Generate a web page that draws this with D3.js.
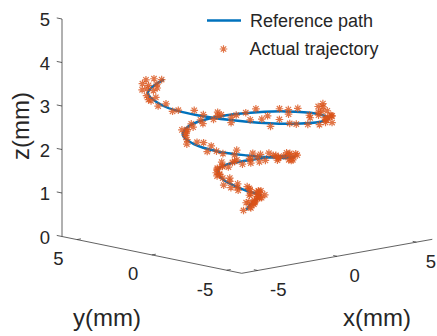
<!DOCTYPE html>
<html><head><meta charset="utf-8">
<script src="https://cdn.jsdelivr.net/npm/d3@7"></script>
<style>body{margin:0;background:#fff}svg{display:block}text{font-family:"Liberation Sans",Arial,sans-serif;fill:#262626}</style>
</head><body><svg id="c" width="437" height="336"></svg>
<script>
// ---- data ----
const xTicks = [-5, 0, 5];
const yTicks = [-5, 0, 5];
const zTicks = [0, 1, 2, 3, 4, 5];
const seriesNames = ["Reference path", "Actual trajectory"];
const axisNames = ["x(mm)", "y(mm)", "z(mm)"];

const refX = [0.10,0.27,0.41,0.40,0.20,-0.19,-0.65,-1.04,-1.18,-0.98,-0.43,0.37,1.20,1.80,1.96,1.57,0.66,-0.56,-1.75,-2.57,-2.74,-2.15,-0.89,0.74,2.30,3.34,3.52,2.73,1.12,-0.92,-2.85,-4.10,-4.30,-3.31,-0.95];
const refY = [0.11,0.08,-0.10,-0.38,-0.65,-0.80,-0.69,-0.31,0.28,0.93,1.42,1.57,1.27,0.54,-0.46,-1.47,-2.19,-2.35,-1.86,-0.77,0.65,2.02,2.95,3.13,2.44,1.00,-0.83,-2.57,-3.72,-3.91,-3.02,-1.23,1.02,3.12,4.61];
const refZ = [0.65,0.74,0.84,0.94,1.02,1.09,1.17,1.28,1.38,1.49,1.53,1.57,1.61,1.69,1.78,1.86,1.95,2.05,2.14,2.21,2.29,2.36,2.42,2.49,2.55,2.62,2.69,2.75,2.86,2.96,3.07,3.16,3.24,3.33,3.37];

const actX = [0.22,-0.04,0.24,0.13, 0.51,0.27,0.12,0.48, 0.43,0.26,0.59,0.34, 0.60,0.23,0.38,0.00, 0.34,0.10,-0.07,0.13, -0.07,-0.49,-0.37,-0.64, -0.41,-0.79,-1.07,-0.84, -1.02,-1.23,-0.93,-1.21, -0.98,-1.25,-1.00,-1.28, -0.84,-0.84,-0.79,-0.35, -0.31,-0.41,0.02,0.07, 0.61,0.54,0.57,1.09, 1.22,1.20,1.68,1.59, 2.00,1.72,1.96,1.67, 2.10,1.86,1.69,1.89, 1.69,1.16,1.17,0.79, 0.90,0.32,-0.17,-0.16, -0.54,-1.01,-0.98,-1.51, -1.55,-2.08,-2.08,-2.62, -2.43,-2.61,-2.74,-2.48, -2.62,-2.77,-2.40,-2.40, -1.91,-1.88,-1.74,-1.11, -0.87,-0.63,0.10,0.27, 0.94,1.01,1.60,1.66, 2.44,2.56,2.74,3.30, 3.46,3.21,3.48,3.38, 3.76,3.28,2.91,3.03, 2.75,2.18,2.11,1.46, 1.32,0.49,0.18,-0.66, -0.78,-1.40,-1.97,-2.15, -2.73,-3.34,-3.43,-3.89, -3.86,-4.19,-4.42,-4.15, -4.28,-4.20,-3.63,-3.62, -3.11,-2.84,-2.05,-1.79, -0.81, 2.9,3.1,2.5,2.6,2.8,3.2,2.8,2.4, -3.5,-3.2,-2.6,-2.0,-3.6,-3.6,-3.0];
const actY = [0.03,0.20,0.32,-0.11, 0.14,-0.20,0.01,0.06, -0.24,-0.23,-0.06,-0.16, -0.54,-0.37,-0.56,-0.70, -0.41,-0.64,-0.91,-0.78, -0.88,-0.67,-0.53,-0.92, -0.63,-0.84,-0.48,-0.29, -0.45,-0.22,0.17,0.28, 0.12,0.52,0.57,0.65, 1.17,1.10,1.00,1.28, 1.34,1.56,1.72,1.33, 1.63,1.26,1.44,1.47, 1.13,1.03,1.09,0.87, 0.38,0.37,0.00,-0.33, -0.22,-0.66,-1.15,-1.24, -1.55,-1.55,-1.61,-2.21, -2.13,-2.47,-2.25,-2.19, -2.49,-2.29,-1.93,-1.83, -2.02,-1.51,-1.36,-1.16, -0.53,-0.37,-0.24,0.28, 0.57,1.09,1.56,1.48, 2.08,2.01,2.51,2.84, 2.81,2.94,3.22,3.24, 2.97,3.04,2.75,2.49, 2.68,2.13,1.54,1.34, 0.92,0.64,0.31,-0.57, -0.77,-1.51,-1.68,-2.02, -2.71,-2.92,-2.97,-3.28, -3.88,-3.69,-3.86,-3.98, -3.67,-3.64,-3.65,-3.26, -3.10,-2.47,-1.91,-1.88, -1.17,-0.91,-0.09,0.58, 0.88,1.49,2.25,2.75, 2.96,3.57,3.83,4.12, 4.85, -2.6,-2.3,-2.7,-2.3,-2.1,-2.0,-2.7,-2.2, 3.3,3.6,4.0,4.1,2.9,2.6,3.5];
const actZ = [0.69,0.62,0.77,0.69, 0.75,0.86,0.82,0.74, 0.90,0.81,0.91,0.83, 0.99,1.06,0.94,1.00, 1.00,1.12,0.99,1.13, 1.13,1.06,1.20,1.12, 1.18,1.29,1.26,1.17, 1.34,1.25,1.35,1.27, 1.43,1.51,1.40,1.46, 1.47,1.58,1.44,1.58, 1.57,1.49,1.62,1.53, 1.58,1.67,1.62,1.52, 1.67,1.57,1.67,1.58, 1.74,1.81,1.70,1.76, 1.76,1.88,1.75,1.90, 1.90,1.83,1.98,1.90, 1.96,2.07,2.03,1.95, 2.11,2.01,2.12,2.03, 2.19,2.26,2.14,2.19, 2.19,2.31,2.18,2.33, 2.33,2.26,2.40,2.31, 2.37,2.47,2.42,2.33, 2.48,2.38,2.48,2.38, 2.54,2.61,2.48,2.54, 2.53,2.65,2.52,2.66, 2.66,2.59,2.73,2.64, 2.70,2.80,2.75,2.66, 2.81,2.72,2.83,2.74, 2.91,2.99,2.87,2.94, 2.94,3.07,2.95,3.10, 3.11,3.04,3.19,3.11, 3.17,3.27,3.23,3.14, 3.30,3.20,3.31,3.22, 3.38,3.44,3.31,3.36, 3.35, 2.80,2.78,2.95,3.08,2.98,2.70,2.66,3.02, 3.40,3.50,3.52,3.50,3.30,3.20,3.38];

// ---- projection (orthographic 3D view) ----
const svg = d3.select("#c");
const xs = d3.scaleLinear().domain([-6, 6]).range([0, 1]);
const ys = d3.scaleLinear().domain([-6, 6]).range([0, 1]);
const zs = d3.scaleLinear().domain([0, 5]).range([0, 217.5]);
const corner = [241.7, 273.3];      // (xmin, ymin, 0)
const xEdge = [190.6, -34.0];        // full x range
const yEdge = [-179.7, -36.8];       // full y range
function P(x, y, z) {
  const u = xs(x), v = ys(y);
  return [corner[0] + u * xEdge[0] + v * yEdge[0],
          corner[1] + u * xEdge[1] + v * yEdge[1] - zs(z)];
}
const axisColor = "#3a3a3a";

// axes lines
const g = svg.append("g");
const seg = (a, b, w) => g.append("line").attr("x1", a[0]).attr("y1", a[1]).attr("x2", b[0]).attr("y2", b[1])
  .attr("stroke", axisColor).attr("stroke-width", w || 0.8);
seg(P(-6, 6, 0), P(-6, 6, 5));
seg(P(-6, 6, 0), P(-6, -6, 0));
seg(P(-6, -6, 0), P(6, -6, 0));

// z ticks
zTicks.forEach(t => {
  const p = P(-6, 6, t), q = P(-6, 6.35, t);
  seg(p, q);
  g.append("text").attr("x", 50).attr("y", p[1] + 0.5).attr("text-anchor", "end")
    .attr("dominant-baseline", "central").attr("font-size", 18.5).text(t);
});
// y ticks
yTicks.forEach(t => {
  const p = P(-6, t, 0), q = P(-5.75, t, 0);
  seg(p, q);
  g.append("text").attr("x", p[0] - 13.5).attr("y", p[1] + 19).attr("text-anchor", "end")
    .attr("dominant-baseline", "central").attr("font-size", 18.5).text(t);
});
// x ticks
xTicks.forEach(t => {
  const p = P(t, -6, 0), q = P(t, -5.75, 0);
  seg(p, q);
  const tx = g.append("text").attr("x", p[0] + 12.5).attr("y", p[1] + 19).attr("text-anchor", "start")
    .attr("dominant-baseline", "central").attr("font-size", 18.5).text(t);
  const w = tx.node().getComputedTextLength();
  if (p[0] + 12.5 + w > 436) tx.attr("x", 436 - w);
});
// axis labels
g.append("text").attr("x", 377).attr("y", 326).attr("text-anchor", "middle").attr("font-size", 24).text(axisNames[0]);
g.append("text").attr("x", 107).attr("y", 326).attr("text-anchor", "middle").attr("font-size", 24).text(axisNames[1]);
g.append("text").attr("transform", "translate(29,126) rotate(-90)").attr("text-anchor", "middle").attr("font-size", 24).text(axisNames[2]);

// reference path
const refPts = refX.map((x, i) => P(x, refY[i], refZ[i]));
svg.append("path").attr("d", d3.line().curve(d3.curveCatmullRom.alpha(0.5))(refPts))
  .attr("fill", "none").attr("stroke", "#0072BD").attr("stroke-width", 2.5).attr("stroke-linecap", "round");

// actual trajectory markers
const star = "M-3.8,0H3.8M0,-3.8V3.8M-2.7,-2.7L2.7,2.7M-2.7,2.7L2.7,-2.7";
svg.append("g").selectAll("path").data(d3.range(actX.length)).join("path")
  .attr("transform", i => { const p = P(actX[i], actY[i], actZ[i]); return `translate(${p[0]},${p[1]})`; })
  .attr("d", star).attr("fill", "none").attr("stroke", "#D95319").attr("stroke-width", 1.2).attr("stroke-opacity", 0.8);

// legend
const lg = svg.append("g");
lg.append("line").attr("x1", 207).attr("x2", 241).attr("y1", 20.5).attr("y2", 20.5).attr("stroke", "#0072BD").attr("stroke-width", 2.5);
lg.append("text").attr("x", 250).attr("y", 20.5).attr("dominant-baseline", "central").attr("font-size", 18).text(seriesNames[0]);
lg.append("path").attr("transform", "translate(223.5,49)").attr("d", star).attr("fill", "none").attr("stroke", "#D95319").attr("stroke-width", 1.2).attr("stroke-opacity", 0.8);
lg.append("text").attr("x", 249.5).attr("y", 48.5).attr("dominant-baseline", "central").attr("font-size", 18).text(seriesNames[1]);
</script></body></html>
